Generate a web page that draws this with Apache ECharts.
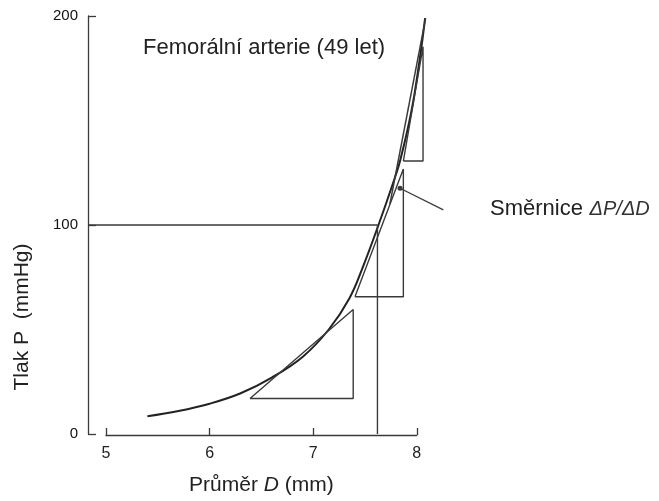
<!DOCTYPE html>
<html>
<head>
<meta charset="utf-8">
<script src="https://cdn.jsdelivr.net/npm/echarts@6/dist/echarts.min.js"></script>
<style>html,body{margin:0;padding:0;background:#fff}#c{width:659px;height:501px}</style>
</head>
<body>
<div id="c"></div>
<script>
// Data
const xTicks = [5, 6, 7, 8];
const yTicks = [0, 100, 200];
const dataRangeD = [4.8263, 8.3];   // D range of the plotting area (y-axis sits left of D=5)
const curveD = [5.40, 5.70, 6.00, 6.30, 6.60, 6.90, 7.15, 7.35, 7.48, 7.63, 7.77, 7.84, 7.95, 8.03, 8.08];
const curveP = [8.5, 11, 14.5, 19.5, 27, 37, 50, 65, 80, 100, 120, 131, 155, 180, 199];
const tri1D = [6.39, 7.386, 7.386, 6.39];
const tri1P = [17, 59.6, 17, 17];
const tri2D = [7.403, 7.87, 7.87, 7.403];
const tri2P = [65.7, 126.8, 65.7, 65.7];
const tri3D = [7.87, 8.06, 8.06, 7.87];
const tri3P = [130.6, 185.3, 130.6, 130.6];
const tangentD = [7.74, 8.085];
const tangentP = [110, 199];
const guideD = [4.8263, 7.62, 7.62];
const guideP = [100, 100, 0];
const arrowD = [8.256, 7.838];
const arrowP = [107.2, 117.6];

const pairs = (a, b) => a.map((v, i) => [v, b[i]]);
const lineCol = '#3a3a3a';
const txt = '#222';
const ff = 'Liberation Sans';

const thin = (d, w) => ({ type: 'line', xAxisIndex: 0, yAxisIndex: 0, data: d, symbol: 'none',
  lineStyle: { color: lineCol, width: w || 1.4 } });

const chart = echarts.init(document.getElementById('c'));
chart.setOption({
  animation: false,
  grid: [
    { left: 88, right: 211.1, top: 16, bottom: 67 },
    { left: 106, right: 242.2, top: 16, bottom: 64 }
  ],
  xAxis: [
    { gridIndex: 0, type: 'value', min: dataRangeD[0], max: dataRangeD[1], show: false },
    { gridIndex: 1, type: 'value', min: xTicks[0], max: xTicks[xTicks.length - 1], interval: 1,
      axisLine: { show: true, lineStyle: { color: lineCol, width: 1.3 } },
      axisTick: { show: true, inside: true, length: 7, lineStyle: { color: lineCol, width: 1.3 } },
      splitLine: { show: false },
      axisLabel: { color: txt, fontSize: 16, margin: 11, fontFamily: ff },
      name: '{n|Průměr }{i|D}{n| (mm)}',
      nameLocation: 'middle', nameGap: 40,
      nameTextStyle: {
        rich: {
          n: { fontSize: 21, color: txt, fontFamily: ff },
          i: { fontSize: 21, color: txt, fontStyle: 'italic', fontFamily: ff }
        }
      } }
  ],
  yAxis: [
    { gridIndex: 0, type: 'value', min: yTicks[0], max: yTicks[yTicks.length - 1], interval: 100,
      axisLine: { show: true, lineStyle: { color: lineCol, width: 1.3 } },
      axisTick: { show: true, inside: true, length: 8, lineStyle: { color: lineCol, width: 1.3 } },
      splitLine: { show: false },
      axisLabel: { color: '#111', fontSize: 15, margin: 10, fontFamily: ff } },
    { gridIndex: 1, type: 'value', min: 0, max: 1, show: false }
  ],
  graphic: [
    { type: 'text', left: 143, top: 37,
      style: { text: 'Femorální arterie (49 let)', fontSize: 22, fill: txt, fontFamily: ff } },
    { type: 'text', left: 490, top: 198,
      style: {
        text: '{a|Směrnice}  {b|ΔP/ΔD}',
        rich: {
          a: { fontSize: 22, fill: txt, fontFamily: ff },
          b: { fontSize: 20, fill: '#333', fontStyle: 'italic', fontFamily: ff }
        }
      } },
    { type: 'text', x: 22, y: 317, rotation: Math.PI / 2,
      style: { text: 'Tlak P  (mmHg)', fontSize: 21, fill: txt, fontFamily: ff,
        textAlign: 'center', textVerticalAlign: 'middle' } }
  ],
  series: [
    { type: 'line', xAxisIndex: 0, yAxisIndex: 0, data: pairs(curveD, curveP), smooth: 0.4, symbol: 'none',
      lineStyle: { color: '#222', width: 2 } },
    thin(pairs(tri1D, tri1P)),
    thin(pairs(tri2D, tri2P)),
    thin(pairs(tri3D, tri3P)),
    thin(pairs(tangentD, tangentP), 1.5),
    thin(pairs(guideD, guideP)),
    { type: 'line', xAxisIndex: 0, yAxisIndex: 0,
      data: pairs(arrowD, arrowP).map((p, i) => i === 1 ? { value: p, symbol: 'circle', symbolSize: 5 } : { value: p, symbol: 'none' }),
      showSymbol: true, symbol: 'none',
      itemStyle: { color: lineCol },
      lineStyle: { color: lineCol, width: 1.3 } }
  ]
});
</script>
</body>
</html>
